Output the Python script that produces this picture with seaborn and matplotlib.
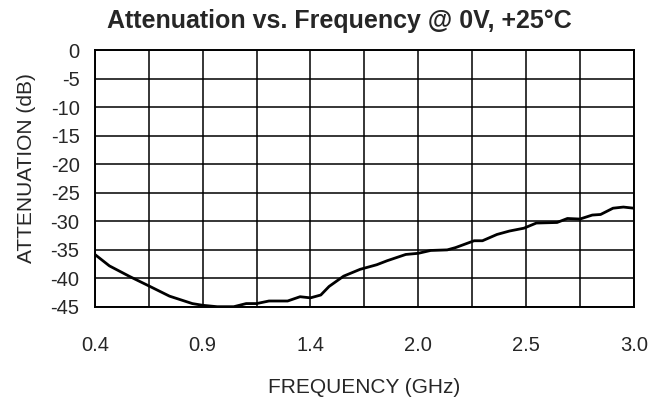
import matplotlib
matplotlib.use("Agg")
import matplotlib.pyplot as plt
import seaborn as sns
import pandas as pd
import numpy as np

# values
freq_ghz = [0.40, 0.47, 0.57, 0.66, 0.76, 0.87, 0.92, 0.99, 1.07, 1.13, 1.18,
            1.24, 1.33, 1.39, 1.44, 1.49, 1.53, 1.60, 1.68, 1.76, 1.81, 1.90,
            1.96, 2.02, 2.10, 2.14, 2.23, 2.27, 2.34, 2.40, 2.47, 2.53, 2.63,
            2.68, 2.74, 2.80, 2.84, 2.90, 2.95, 3.00]
atten_db = [-35.8, -37.8, -39.7, -41.3, -43.1, -44.4, -44.7, -44.95, -44.95,
            -44.4, -44.4, -43.95, -43.95, -43.2, -43.4, -42.9, -41.4, -39.6,
            -38.4, -37.6, -36.9, -35.8, -35.6, -35.1, -35.0, -34.6, -33.4,
            -33.4, -32.3, -31.7, -31.2, -30.3, -30.2, -29.5, -29.6, -28.9,
            -28.8, -27.7, -27.5, -27.7]

x_grid = np.linspace(0.4, 3.0, 11)
x_labels = ["0.4", "", "0.9", "", "1.4", "", "2.0", "", "2.5", "", "3.0"]
y_ticks = list(range(0, -50, -5))

sns.set_style("white")
plt.rcParams["font.family"] = ["Liberation Sans", "DejaVu Sans"]
plt.rcParams["axes.unicode_minus"] = False

df = pd.DataFrame({"freq": freq_ghz, "atten": atten_db})

fig = plt.figure(figsize=(6.5, 4), dpi=100)
ax = fig.add_axes([0.146, 0.2325, 0.829, 0.6425])

sns.lineplot(data=df, x="freq", y="atten", ax=ax, color="black", linewidth=2)

ax.set_xlim(0.4, 3.0)
ax.set_ylim(-45, 0)
ax.set_xticks(x_grid)
ax.set_xticklabels(x_labels)
ax.set_yticks(y_ticks)
ax.grid(True, color="black", linewidth=1.1)
ax.tick_params(axis="x", length=0, pad=21, labelsize=14.5)
ax.tick_params(axis="y", length=0, pad=11, labelsize=14.5)
for s in ax.spines.values():
    s.set_color("black")
    s.set_linewidth(1.4)
    s.set_visible(True)

ax.set_xlabel("")
ax.set_ylabel("")
fig.text(0.56, 0.032, "FREQUENCY (GHz)", ha="center", va="center", fontsize=15)
fig.text(0.0415, 0.58, "ATTENUATION (dB)", ha="center", va="center",
         rotation=90, fontsize=15)
fig.text(0.522, 0.947, "Attenuation vs. Frequency @ 0V, +25°C", ha="center",
         va="center", fontsize=18, fontweight="bold")

fig.savefig("out.png", dpi=100)
